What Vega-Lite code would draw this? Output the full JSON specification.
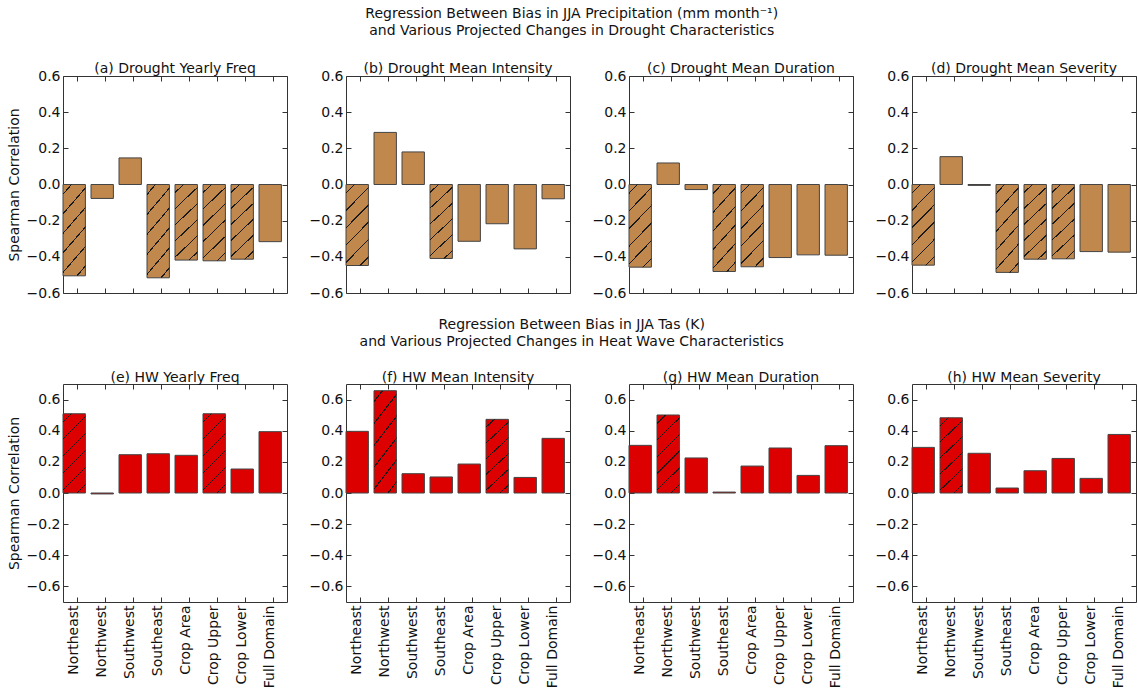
{
  "$schema": "https://vega.github.io/schema/vega-lite/v6.json",
  "background": "white",
  "padding": {"left": 6, "top": 6, "right": 0, "bottom": 0},
  "datasets": {
    "corr": [
      {"panel": "a", "region": "Northeast", "value": -0.505, "sig": true},
      {"panel": "a", "region": "Northwest", "value": -0.077, "sig": false},
      {"panel": "a", "region": "Southwest", "value": 0.147, "sig": false},
      {"panel": "a", "region": "Southeast", "value": -0.516, "sig": true},
      {"panel": "a", "region": "Crop Area", "value": -0.418, "sig": true},
      {"panel": "a", "region": "Crop Upper", "value": -0.422, "sig": true},
      {"panel": "a", "region": "Crop Lower", "value": -0.413, "sig": true},
      {"panel": "a", "region": "Full Domain", "value": -0.316, "sig": false},
      {"panel": "b", "region": "Northeast", "value": -0.448, "sig": true},
      {"panel": "b", "region": "Northwest", "value": 0.288, "sig": false},
      {"panel": "b", "region": "Southwest", "value": 0.180, "sig": false},
      {"panel": "b", "region": "Southeast", "value": -0.409, "sig": true},
      {"panel": "b", "region": "Crop Area", "value": -0.314, "sig": false},
      {"panel": "b", "region": "Crop Upper", "value": -0.217, "sig": false},
      {"panel": "b", "region": "Crop Lower", "value": -0.356, "sig": false},
      {"panel": "b", "region": "Full Domain", "value": -0.079, "sig": false},
      {"panel": "c", "region": "Northeast", "value": -0.457, "sig": true},
      {"panel": "c", "region": "Northwest", "value": 0.119, "sig": false},
      {"panel": "c", "region": "Southwest", "value": -0.028, "sig": false},
      {"panel": "c", "region": "Southeast", "value": -0.481, "sig": true},
      {"panel": "c", "region": "Crop Area", "value": -0.455, "sig": true},
      {"panel": "c", "region": "Crop Upper", "value": -0.404, "sig": false},
      {"panel": "c", "region": "Crop Lower", "value": -0.389, "sig": false},
      {"panel": "c", "region": "Full Domain", "value": -0.391, "sig": false},
      {"panel": "d", "region": "Northeast", "value": -0.446, "sig": true},
      {"panel": "d", "region": "Northwest", "value": 0.154, "sig": false},
      {"panel": "d", "region": "Southwest", "value": -0.005, "sig": false},
      {"panel": "d", "region": "Southeast", "value": -0.486, "sig": true},
      {"panel": "d", "region": "Crop Area", "value": -0.413, "sig": true},
      {"panel": "d", "region": "Crop Upper", "value": -0.411, "sig": true},
      {"panel": "d", "region": "Crop Lower", "value": -0.371, "sig": false},
      {"panel": "d", "region": "Full Domain", "value": -0.374, "sig": false},
      {"panel": "e", "region": "Northeast", "value": 0.509, "sig": true},
      {"panel": "e", "region": "Northwest", "value": -0.006, "sig": false},
      {"panel": "e", "region": "Southwest", "value": 0.246, "sig": false},
      {"panel": "e", "region": "Southeast", "value": 0.252, "sig": false},
      {"panel": "e", "region": "Crop Area", "value": 0.242, "sig": false},
      {"panel": "e", "region": "Crop Upper", "value": 0.509, "sig": true},
      {"panel": "e", "region": "Crop Lower", "value": 0.154, "sig": false},
      {"panel": "e", "region": "Full Domain", "value": 0.394, "sig": false},
      {"panel": "f", "region": "Northeast", "value": 0.396, "sig": false},
      {"panel": "f", "region": "Northwest", "value": 0.657, "sig": true},
      {"panel": "f", "region": "Southwest", "value": 0.124, "sig": false},
      {"panel": "f", "region": "Southeast", "value": 0.103, "sig": false},
      {"panel": "f", "region": "Crop Area", "value": 0.186, "sig": false},
      {"panel": "f", "region": "Crop Upper", "value": 0.473, "sig": true},
      {"panel": "f", "region": "Crop Lower", "value": 0.100, "sig": false},
      {"panel": "f", "region": "Full Domain", "value": 0.351, "sig": false},
      {"panel": "g", "region": "Northeast", "value": 0.306, "sig": false},
      {"panel": "g", "region": "Northwest", "value": 0.501, "sig": true},
      {"panel": "g", "region": "Southwest", "value": 0.225, "sig": false},
      {"panel": "g", "region": "Southeast", "value": 0.006, "sig": false},
      {"panel": "g", "region": "Crop Area", "value": 0.173, "sig": false},
      {"panel": "g", "region": "Crop Upper", "value": 0.289, "sig": false},
      {"panel": "g", "region": "Crop Lower", "value": 0.113, "sig": false},
      {"panel": "g", "region": "Full Domain", "value": 0.304, "sig": false},
      {"panel": "h", "region": "Northeast", "value": 0.293, "sig": false},
      {"panel": "h", "region": "Northwest", "value": 0.483, "sig": true},
      {"panel": "h", "region": "Southwest", "value": 0.255, "sig": false},
      {"panel": "h", "region": "Southeast", "value": 0.032, "sig": false},
      {"panel": "h", "region": "Crop Area", "value": 0.143, "sig": false},
      {"panel": "h", "region": "Crop Upper", "value": 0.222, "sig": false},
      {"panel": "h", "region": "Crop Lower", "value": 0.094, "sig": false},
      {"panel": "h", "region": "Full Domain", "value": 0.376, "sig": false}
    ]
  },
  "data": {"name": "corr"},
  "config": {
    "font": "DejaVu Sans",
    "view": {"stroke": "#333333", "strokeWidth": 1},
    "axis": {"grid": false, "domain": false, "ticks": true, "tickSize": -5, "tickColor": "#333333", "tickWidth": 1, "labelFont": "DejaVu Sans", "labelFontSize": 14, "labelColor": "#111111", "labelPadding": 8, "titleFont": "DejaVu Sans", "titleFontSize": 14, "titleFontWeight": "normal", "titleColor": "#111111", "titlePadding": 5},
    "title": {"font": "DejaVu Sans", "fontSize": 14, "fontWeight": "normal", "color": "#111111", "offset": -7, "lineHeight": 17},
    "bar": {
      "fill": {
        "gradient": "linear", "x1": 0, "y1": 0, "x2": 0.336, "y2": 1.188,
        "stops": [
          {"offset": 0, "color": "rgba(0,0,0,0)"},
          {"offset": 0.076, "color": "rgba(0,0,0,0)"}, {"offset": 0.076, "color": "#1a1a1a"}, {"offset": 0.090, "color": "#1a1a1a"}, {"offset": 0.090, "color": "rgba(0,0,0,0)"},
          {"offset": 0.243, "color": "rgba(0,0,0,0)"}, {"offset": 0.243, "color": "#1a1a1a"}, {"offset": 0.257, "color": "#1a1a1a"}, {"offset": 0.257, "color": "rgba(0,0,0,0)"},
          {"offset": 0.410, "color": "rgba(0,0,0,0)"}, {"offset": 0.410, "color": "#1a1a1a"}, {"offset": 0.424, "color": "#1a1a1a"}, {"offset": 0.424, "color": "rgba(0,0,0,0)"},
          {"offset": 0.576, "color": "rgba(0,0,0,0)"}, {"offset": 0.576, "color": "#1a1a1a"}, {"offset": 0.590, "color": "#1a1a1a"}, {"offset": 0.590, "color": "rgba(0,0,0,0)"},
          {"offset": 0.743, "color": "rgba(0,0,0,0)"}, {"offset": 0.743, "color": "#1a1a1a"}, {"offset": 0.757, "color": "#1a1a1a"}, {"offset": 0.757, "color": "rgba(0,0,0,0)"},
          {"offset": 0.910, "color": "rgba(0,0,0,0)"}, {"offset": 0.910, "color": "#1a1a1a"}, {"offset": 0.924, "color": "#1a1a1a"}, {"offset": 0.924, "color": "rgba(0,0,0,0)"},
          {"offset": 1, "color": "rgba(0,0,0,0)"}
        ]
      }
    }
  },
  "spacing": 17,
  "vconcat": [
    {
      "title": {"text": ["Regression Between Bias in JJA Precipitation (mm month⁻¹)", "and Various Projected Changes in Drought Characteristics"], "offset": 24, "anchor": "middle"},
      "spacing": 20,
      "hconcat": [
        {
          "title": {"text": "(a) Drought Yearly Freq"},
          "width": 224, "height": 217,
          "transform": [{"filter": "datum.panel === 'a'"}],
          "layer": [
            {"mark": {"type": "bar", "fill": "#c0884c", "stroke": "#444444", "strokeWidth": 1},
             "encoding": {
               "x": {"field": "region", "type": "nominal", "scale": {"domain": ["Northeast", "Northwest", "Southwest", "Southeast", "Crop Area", "Crop Upper", "Crop Lower", "Full Domain"], "paddingInner": 0.2, "paddingOuter": 0.1, "align": 0}, "axis": {"orient": "bottom", "labels": false, "title": null, "bandPosition": 0.63}},
               "y": {"field": "value", "type": "quantitative", "scale": {"domain": [-0.6, 0.6], "nice": false}, "axis": {"orient": "left", "values": [-0.6, -0.4, -0.2, 0, 0.2, 0.4, 0.6], "format": ".1f", "title": "Spearman Correlation"}}
             }},
            {"transform": [{"filter": "datum.sig"}],
             "mark": {"type": "bar", "strokeWidth": 0},
             "encoding": {
               "x": {"field": "region", "type": "nominal", "scale": {"domain": ["Northeast", "Northwest", "Southwest", "Southeast", "Crop Area", "Crop Upper", "Crop Lower", "Full Domain"], "paddingInner": 0.2, "paddingOuter": 0.1, "align": 0}, "axis": {"orient": "top", "labels": false, "title": null, "bandPosition": 0.63}},
               "y": {"field": "value", "type": "quantitative", "scale": {"domain": [-0.6, 0.6], "nice": false}, "axis": {"orient": "right", "values": [-0.6, -0.4, -0.2, 0, 0.2, 0.4, 0.6], "labels": false, "title": null}}
             }}
          ],
          "resolve": {"axis": {"x": "independent", "y": "independent"}}
        },
        {
          "title": {"text": "(b) Drought Mean Intensity"},
          "width": 224, "height": 217,
          "transform": [{"filter": "datum.panel === 'b'"}],
          "layer": [
            {"mark": {"type": "bar", "fill": "#c0884c", "stroke": "#444444", "strokeWidth": 1},
             "encoding": {
               "x": {"field": "region", "type": "nominal", "scale": {"domain": ["Northeast", "Northwest", "Southwest", "Southeast", "Crop Area", "Crop Upper", "Crop Lower", "Full Domain"], "paddingInner": 0.2, "paddingOuter": 0.1, "align": 0}, "axis": {"orient": "bottom", "labels": false, "title": null, "bandPosition": 0.63}},
               "y": {"field": "value", "type": "quantitative", "scale": {"domain": [-0.6, 0.6], "nice": false}, "axis": {"orient": "left", "values": [-0.6, -0.4, -0.2, 0, 0.2, 0.4, 0.6], "format": ".1f", "title": null}}
             }},
            {"transform": [{"filter": "datum.sig"}],
             "mark": {"type": "bar", "strokeWidth": 0},
             "encoding": {
               "x": {"field": "region", "type": "nominal", "scale": {"domain": ["Northeast", "Northwest", "Southwest", "Southeast", "Crop Area", "Crop Upper", "Crop Lower", "Full Domain"], "paddingInner": 0.2, "paddingOuter": 0.1, "align": 0}, "axis": {"orient": "top", "labels": false, "title": null, "bandPosition": 0.63}},
               "y": {"field": "value", "type": "quantitative", "scale": {"domain": [-0.6, 0.6], "nice": false}, "axis": {"orient": "right", "values": [-0.6, -0.4, -0.2, 0, 0.2, 0.4, 0.6], "labels": false, "title": null}}
             }}
          ],
          "resolve": {"axis": {"x": "independent", "y": "independent"}}
        },
        {
          "title": {"text": "(c) Drought Mean Duration"},
          "width": 224, "height": 217,
          "transform": [{"filter": "datum.panel === 'c'"}],
          "layer": [
            {"mark": {"type": "bar", "fill": "#c0884c", "stroke": "#444444", "strokeWidth": 1},
             "encoding": {
               "x": {"field": "region", "type": "nominal", "scale": {"domain": ["Northeast", "Northwest", "Southwest", "Southeast", "Crop Area", "Crop Upper", "Crop Lower", "Full Domain"], "paddingInner": 0.2, "paddingOuter": 0.1, "align": 0}, "axis": {"orient": "bottom", "labels": false, "title": null, "bandPosition": 0.63}},
               "y": {"field": "value", "type": "quantitative", "scale": {"domain": [-0.6, 0.6], "nice": false}, "axis": {"orient": "left", "values": [-0.6, -0.4, -0.2, 0, 0.2, 0.4, 0.6], "format": ".1f", "title": null}}
             }},
            {"transform": [{"filter": "datum.sig"}],
             "mark": {"type": "bar", "strokeWidth": 0},
             "encoding": {
               "x": {"field": "region", "type": "nominal", "scale": {"domain": ["Northeast", "Northwest", "Southwest", "Southeast", "Crop Area", "Crop Upper", "Crop Lower", "Full Domain"], "paddingInner": 0.2, "paddingOuter": 0.1, "align": 0}, "axis": {"orient": "top", "labels": false, "title": null, "bandPosition": 0.63}},
               "y": {"field": "value", "type": "quantitative", "scale": {"domain": [-0.6, 0.6], "nice": false}, "axis": {"orient": "right", "values": [-0.6, -0.4, -0.2, 0, 0.2, 0.4, 0.6], "labels": false, "title": null}}
             }}
          ],
          "resolve": {"axis": {"x": "independent", "y": "independent"}}
        },
        {
          "title": {"text": "(d) Drought Mean Severity"},
          "width": 224, "height": 217,
          "transform": [{"filter": "datum.panel === 'd'"}],
          "layer": [
            {"mark": {"type": "bar", "fill": "#c0884c", "stroke": "#444444", "strokeWidth": 1},
             "encoding": {
               "x": {"field": "region", "type": "nominal", "scale": {"domain": ["Northeast", "Northwest", "Southwest", "Southeast", "Crop Area", "Crop Upper", "Crop Lower", "Full Domain"], "paddingInner": 0.2, "paddingOuter": 0.1, "align": 0}, "axis": {"orient": "bottom", "labels": false, "title": null, "bandPosition": 0.63}},
               "y": {"field": "value", "type": "quantitative", "scale": {"domain": [-0.6, 0.6], "nice": false}, "axis": {"orient": "left", "values": [-0.6, -0.4, -0.2, 0, 0.2, 0.4, 0.6], "format": ".1f", "title": null}}
             }},
            {"transform": [{"filter": "datum.sig"}],
             "mark": {"type": "bar", "strokeWidth": 0},
             "encoding": {
               "x": {"field": "region", "type": "nominal", "scale": {"domain": ["Northeast", "Northwest", "Southwest", "Southeast", "Crop Area", "Crop Upper", "Crop Lower", "Full Domain"], "paddingInner": 0.2, "paddingOuter": 0.1, "align": 0}, "axis": {"orient": "top", "labels": false, "title": null, "bandPosition": 0.63}},
               "y": {"field": "value", "type": "quantitative", "scale": {"domain": [-0.6, 0.6], "nice": false}, "axis": {"orient": "right", "values": [-0.6, -0.4, -0.2, 0, 0.2, 0.4, 0.6], "labels": false, "title": null}}
             }}
          ],
          "resolve": {"axis": {"x": "independent", "y": "independent"}}
        }
      ]
    },
    {
      "title": {"text": ["Regression Between Bias in JJA Tas (K)", "and Various Projected Changes in Heat Wave Characteristics"], "offset": 21, "anchor": "middle"},
      "spacing": 20,
      "hconcat": [
        {
          "title": {"text": "(e) HW Yearly Freq", "offset": -1},
          "width": 224, "height": 218,
          "transform": [{"filter": "datum.panel === 'e'"}],
          "layer": [
            {"mark": {"type": "bar", "fill": "#dc0000", "stroke": "#444444", "strokeWidth": 1},
             "encoding": {
               "x": {"field": "region", "type": "nominal", "scale": {"domain": ["Northeast", "Northwest", "Southwest", "Southeast", "Crop Area", "Crop Upper", "Crop Lower", "Full Domain"], "paddingInner": 0.2, "paddingOuter": 0.1, "align": 0}, "axis": {"orient": "bottom", "labels": true, "labelAngle": -90, "title": null, "bandPosition": 0.63}},
               "y": {"field": "value", "type": "quantitative", "scale": {"domain": [-0.7, 0.7], "nice": false}, "axis": {"orient": "left", "values": [-0.6, -0.4, -0.2, 0, 0.2, 0.4, 0.6], "format": ".1f", "title": "Spearman Correlation"}}
             }},
            {"transform": [{"filter": "datum.sig"}],
             "mark": {"type": "bar", "strokeWidth": 0},
             "encoding": {
               "x": {"field": "region", "type": "nominal", "scale": {"domain": ["Northeast", "Northwest", "Southwest", "Southeast", "Crop Area", "Crop Upper", "Crop Lower", "Full Domain"], "paddingInner": 0.2, "paddingOuter": 0.1, "align": 0}, "axis": {"orient": "top", "labels": false, "title": null, "bandPosition": 0.63}},
               "y": {"field": "value", "type": "quantitative", "scale": {"domain": [-0.7, 0.7], "nice": false}, "axis": {"orient": "right", "values": [-0.6, -0.4, -0.2, 0, 0.2, 0.4, 0.6], "labels": false, "title": null}}
             }}
          ],
          "resolve": {"axis": {"x": "independent", "y": "independent"}}
        },
        {
          "title": {"text": "(f) HW Mean Intensity", "offset": -1},
          "width": 224, "height": 218,
          "transform": [{"filter": "datum.panel === 'f'"}],
          "layer": [
            {"mark": {"type": "bar", "fill": "#dc0000", "stroke": "#444444", "strokeWidth": 1},
             "encoding": {
               "x": {"field": "region", "type": "nominal", "scale": {"domain": ["Northeast", "Northwest", "Southwest", "Southeast", "Crop Area", "Crop Upper", "Crop Lower", "Full Domain"], "paddingInner": 0.2, "paddingOuter": 0.1, "align": 0}, "axis": {"orient": "bottom", "labels": true, "labelAngle": -90, "title": null, "bandPosition": 0.63}},
               "y": {"field": "value", "type": "quantitative", "scale": {"domain": [-0.7, 0.7], "nice": false}, "axis": {"orient": "left", "values": [-0.6, -0.4, -0.2, 0, 0.2, 0.4, 0.6], "format": ".1f", "title": null}}
             }},
            {"transform": [{"filter": "datum.sig"}],
             "mark": {"type": "bar", "strokeWidth": 0},
             "encoding": {
               "x": {"field": "region", "type": "nominal", "scale": {"domain": ["Northeast", "Northwest", "Southwest", "Southeast", "Crop Area", "Crop Upper", "Crop Lower", "Full Domain"], "paddingInner": 0.2, "paddingOuter": 0.1, "align": 0}, "axis": {"orient": "top", "labels": false, "title": null, "bandPosition": 0.63}},
               "y": {"field": "value", "type": "quantitative", "scale": {"domain": [-0.7, 0.7], "nice": false}, "axis": {"orient": "right", "values": [-0.6, -0.4, -0.2, 0, 0.2, 0.4, 0.6], "labels": false, "title": null}}
             }}
          ],
          "resolve": {"axis": {"x": "independent", "y": "independent"}}
        },
        {
          "title": {"text": "(g) HW Mean Duration", "offset": -1},
          "width": 224, "height": 218,
          "transform": [{"filter": "datum.panel === 'g'"}],
          "layer": [
            {"mark": {"type": "bar", "fill": "#dc0000", "stroke": "#444444", "strokeWidth": 1},
             "encoding": {
               "x": {"field": "region", "type": "nominal", "scale": {"domain": ["Northeast", "Northwest", "Southwest", "Southeast", "Crop Area", "Crop Upper", "Crop Lower", "Full Domain"], "paddingInner": 0.2, "paddingOuter": 0.1, "align": 0}, "axis": {"orient": "bottom", "labels": true, "labelAngle": -90, "title": null, "bandPosition": 0.63}},
               "y": {"field": "value", "type": "quantitative", "scale": {"domain": [-0.7, 0.7], "nice": false}, "axis": {"orient": "left", "values": [-0.6, -0.4, -0.2, 0, 0.2, 0.4, 0.6], "format": ".1f", "title": null}}
             }},
            {"transform": [{"filter": "datum.sig"}],
             "mark": {"type": "bar", "strokeWidth": 0},
             "encoding": {
               "x": {"field": "region", "type": "nominal", "scale": {"domain": ["Northeast", "Northwest", "Southwest", "Southeast", "Crop Area", "Crop Upper", "Crop Lower", "Full Domain"], "paddingInner": 0.2, "paddingOuter": 0.1, "align": 0}, "axis": {"orient": "top", "labels": false, "title": null, "bandPosition": 0.63}},
               "y": {"field": "value", "type": "quantitative", "scale": {"domain": [-0.7, 0.7], "nice": false}, "axis": {"orient": "right", "values": [-0.6, -0.4, -0.2, 0, 0.2, 0.4, 0.6], "labels": false, "title": null}}
             }}
          ],
          "resolve": {"axis": {"x": "independent", "y": "independent"}}
        },
        {
          "title": {"text": "(h) HW Mean Severity", "offset": -1},
          "width": 224, "height": 218,
          "transform": [{"filter": "datum.panel === 'h'"}],
          "layer": [
            {"mark": {"type": "bar", "fill": "#dc0000", "stroke": "#444444", "strokeWidth": 1},
             "encoding": {
               "x": {"field": "region", "type": "nominal", "scale": {"domain": ["Northeast", "Northwest", "Southwest", "Southeast", "Crop Area", "Crop Upper", "Crop Lower", "Full Domain"], "paddingInner": 0.2, "paddingOuter": 0.1, "align": 0}, "axis": {"orient": "bottom", "labels": true, "labelAngle": -90, "title": null, "bandPosition": 0.63}},
               "y": {"field": "value", "type": "quantitative", "scale": {"domain": [-0.7, 0.7], "nice": false}, "axis": {"orient": "left", "values": [-0.6, -0.4, -0.2, 0, 0.2, 0.4, 0.6], "format": ".1f", "title": null}}
             }},
            {"transform": [{"filter": "datum.sig"}],
             "mark": {"type": "bar", "strokeWidth": 0},
             "encoding": {
               "x": {"field": "region", "type": "nominal", "scale": {"domain": ["Northeast", "Northwest", "Southwest", "Southeast", "Crop Area", "Crop Upper", "Crop Lower", "Full Domain"], "paddingInner": 0.2, "paddingOuter": 0.1, "align": 0}, "axis": {"orient": "top", "labels": false, "title": null, "bandPosition": 0.63}},
               "y": {"field": "value", "type": "quantitative", "scale": {"domain": [-0.7, 0.7], "nice": false}, "axis": {"orient": "right", "values": [-0.6, -0.4, -0.2, 0, 0.2, 0.4, 0.6], "labels": false, "title": null}}
             }}
          ],
          "resolve": {"axis": {"x": "independent", "y": "independent"}}
        }
      ]
    }
  ]
}
